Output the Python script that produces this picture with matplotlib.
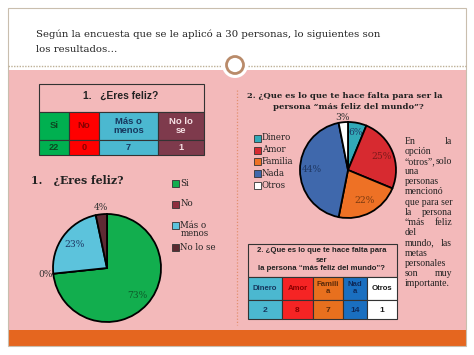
import matplotlib
matplotlib.use("Agg")
import matplotlib.pyplot as plt
import numpy as np
from matplotlib.patches import Rectangle, Circle

# ---------------- data ----------------
q1_categories = ["Si", "No", "Más o menos", "No lo se"]
q1_table_labels = ["Si", "No", "Más o\nmenos", "No lo\nse"]
q1_values = [22, 0, 7, 1]
q1_pct_labels = ["73%", "0%", "23%", "4%"]

q2_categories = ["Dinero", "Amor", "Familia", "Nada", "Otros"]
q2_table_labels = ["Dinero", "Amor", "Famili\na", "Nad\na", "Otros"]
q2_values = [2, 8, 7, 14, 1]
q2_pct_labels = ["6%", "25%", "22%", "44%", "3%"]

title_lines = ["Según la encuesta que se le aplicó a 30 personas, lo siguientes son",
               "los resultados…"]
q1_title = "1.   ¿Eres feliz?"
q2_title = ["2. ¿Que es lo que te hace falta para ser la",
            "persona “más feliz del mundo”?"]
q2_table_title = ["2. ¿Que es lo que te hace falta para", "ser",
                  "la persona “más feliz del mundo”?"]
note_lines = ["En la", "opción", "“otros”, solo", "una", "personas", "mencionó",
              "que para ser", "la persona", "“más feliz", "del", "mundo, las",
              "metas", "personales", "son muy", "importante."]

# ---------------- style ----------------
W, H = 474, 355
PINK = "#F3B9BA"
ORANGE = "#E5661F"
SERIF = "DejaVu Serif"
SERIF2 = "Liberation Serif"
SANS = "Liberation Sans"

q1_pie_colors = ["#12AE4E", "#7E2A3A", "#5CC3DC", "#5E2A33"]
q1_leg_colors = ["#12AE4E", "#8E2E3E", "#5CC3DC", "#5A2A30"]
q1_cell_colors = ["#00B050", "#FF0000", "#4BB8D0", "#7E3A4C"]
q1_cell_text = ["#0C4A22", "#8A0000", "#17375E", "#F6E0E4"]
q1_pct_colors = ["#0E5A2A", "#333333", "#1F3864", "#333333"]

q2_pie_colors = ["#32A9B8", "#D72A30", "#EE7125", "#3F68AC", "#FFFFFF"]
q2_cell_colors = ["#4BB8D0", "#F52424", "#E8701E", "#1A6FC0", "#FFFFFF"]
q2_cell_text = ["#17375E", "#8A0000", "#5A2A0A", "#0E2A5A", "#1A1A1A"]
q2_pct_colors = ["#1F3864", "#7B1A1A", "#7A3A10", "#1F3864", "#333333"]

fig = plt.figure(figsize=(W / 100, H / 100), dpi=100)
fig.patch.set_facecolor("white")
ax = fig.add_axes([0, 0, 1, 1])
ax.set_xlim(0, W)
ax.set_ylim(H, 0)
ax.axis("off")

# slide frame and bands
ax.add_patch(Rectangle((8, 70), 458, 260, facecolor=PINK, edgecolor="none", zorder=0))
ax.add_patch(Rectangle((8, 330), 458, 16, facecolor=ORANGE, edgecolor="none", zorder=0))
ax.add_patch(Rectangle((8, 8), 458, 338, facecolor="none", edgecolor="#C9BEAE", lw=0.8, zorder=1))
ax.plot([8, 222], [66, 66], ls=(0, (1, 1)), color="#BDB096", lw=1.0, zorder=1)
ax.plot([248, 466], [66, 66], ls=(0, (1, 1)), color="#BDB096", lw=1.0, zorder=1)
ax.add_patch(Circle((235, 65), 13, facecolor="white", edgecolor="none", zorder=2))
ax.add_patch(Circle((235, 65), 8.5, facecolor="white", edgecolor="#B98B6A", lw=2.0, zorder=3))
ax.plot([237, 237], [90, 325], ls=(0, (1, 1.5)), color="#E39070", lw=0.9, zorder=1)

# title
for i, t in enumerate(title_lines):
    ax.text(36, 34 + 16 * i, t, fontsize=7.3, family=SERIF, color="#222222",
            va="center", ha="left")

# ---------------- table 1 ----------------
cols1 = [39, 69, 99, 158, 204]
ax.add_patch(Rectangle((39, 84), 165, 28, facecolor=PINK, edgecolor="#333333", lw=0.8))
ax.text(121, 96, q1_title, fontsize=7.4, family=SANS, weight="bold", ha="center",
        va="center", color="#222222")
for i in range(4):
    x0, x1 = cols1[i], cols1[i + 1]
    ax.add_patch(Rectangle((x0, 112), x1 - x0, 28, facecolor=q1_cell_colors[i],
                           edgecolor="#333333", lw=0.8))
    ax.add_patch(Rectangle((x0, 140), x1 - x0, 15, facecolor=q1_cell_colors[i],
                           edgecolor="#333333", lw=0.8))
    ax.text((x0 + x1) / 2, 126, q1_table_labels[i], fontsize=6.8, family=SANS,
            weight="bold", ha="center", va="center", color=q1_cell_text[i],
            linespacing=1.0)
    ax.text((x0 + x1) / 2, 148, str(q1_values[i]), fontsize=6.6, family=SANS,
            weight="bold", ha="center", va="center", color=q1_cell_text[i])

# ---------------- table 2 ----------------
cols2 = [248, 282, 313, 343, 367, 397]
ax.add_patch(Rectangle((248, 244), 149, 33, facecolor=PINK, edgecolor="#333333", lw=0.8))
for i, t in enumerate(q2_table_title):
    ax.text(322, 251 + 9 * i, t, fontsize=5.6, family=SANS, weight="bold",
            ha="center", va="center", color="#222222")
for i in range(5):
    x0, x1 = cols2[i], cols2[i + 1]
    ax.add_patch(Rectangle((x0, 277), x1 - x0, 23, facecolor=q2_cell_colors[i],
                           edgecolor="#333333", lw=0.8))
    ax.add_patch(Rectangle((x0, 300), x1 - x0, 19, facecolor=q2_cell_colors[i],
                           edgecolor="#333333", lw=0.8))
    ax.text((x0 + x1) / 2, 288, q2_table_labels[i], fontsize=5.6, family=SANS,
            weight="bold", ha="center", va="center", color=q2_cell_text[i],
            linespacing=1.0)
    ax.text((x0 + x1) / 2, 310, str(q2_values[i]), fontsize=6.0, family=SANS,
            weight="bold", ha="center", va="center", color=q2_cell_text[i])

# ---------------- pie 1 ----------------
ax.text(31, 181, q1_title, fontsize=7.8, family=SERIF, weight="bold",
        ha="left", va="center", color="#222222")


def pie_axes(cx, cy, r):
    return fig.add_axes([(cx - r) / W, 1 - (cy + r) / H, 2 * r / W, 2 * r / H])


def draw_pie(pa, values, colors, labels, lab_colors, radii):
    wedges, _ = pa.pie(values, colors=colors, startangle=90, counterclock=False,
                       wedgeprops=dict(edgecolor="black", linewidth=1.3))
    for w, lab, c, rr in zip(wedges, labels, lab_colors, radii):
        ang = np.deg2rad((w.theta1 + w.theta2) / 2)
        pa.text(rr * np.cos(ang), rr * np.sin(ang), lab, fontsize=6.6, family=SERIF,
                ha="center", va="center", color=c)
    pa.set_xlim(-1, 1)
    pa.set_ylim(-1, 1)
    pa.axis("off")


pa1 = pie_axes(107, 268, 54)
draw_pie(pa1, q1_values, q1_pie_colors, q1_pct_labels, q1_pct_colors,
         [0.75, 1.15, 0.75, 1.12])

# legend 1
leg1_y = [183, 204, 225, 247]
for cat, c, y in zip(q1_categories, q1_leg_colors, leg1_y):
    ax.add_patch(Rectangle((172, y - 3.5), 7, 7, facecolor=c, edgecolor="#333333", lw=0.6))
    txt = "Más o\nmenos" if cat == "Más o menos" else cat
    ax.text(180.5, y - 4.5, txt, fontsize=6.2, family=SERIF, ha="left", va="top",
            color="#222222", linespacing=1.0)

# ---------------- pie 2 ----------------
for i, t in enumerate(q2_title):
    ax.text(247 if i == 0 else 348, 96 + 11 * i, t, fontsize=6.0, family=SERIF,
            weight="bold", ha="left" if i == 0 else "center", va="center",
            color="#222222")

pa2 = pie_axes(348, 170, 48)
draw_pie(pa2, q2_values, q2_pie_colors, q2_pct_labels, q2_pct_colors,
         [0.8, 0.75, 0.72, 0.75, 1.1])

leg2_y = [138, 150, 161, 173, 185]
for cat, c, y in zip(q2_categories, q2_pie_colors, leg2_y):
    ax.add_patch(Rectangle((254, y - 3.5), 7, 7, facecolor=c, edgecolor="#333333", lw=0.6))
    ax.text(262, y, cat, fontsize=6.2, family=SERIF, ha="left", va="center",
            color="#222222")

# side note, justified
for i, line in enumerate(note_lines):
    y = 141 + 10.2 * i
    words = line.split(" ")
    if len(words) == 2 and i < len(note_lines) - 1:
        ax.text(405, y, words[0], fontsize=7.0, family=SERIF2, ha="left", va="center",
                color="#222222")
        ax.text(452, y, words[1], fontsize=7.0, family=SERIF2, ha="right", va="center",
                color="#222222")
    else:
        ax.text(405, y, line, fontsize=7.0, family=SERIF2, ha="left", va="center",
                color="#222222")

fig.savefig("out.png", dpi=100, facecolor="white")
